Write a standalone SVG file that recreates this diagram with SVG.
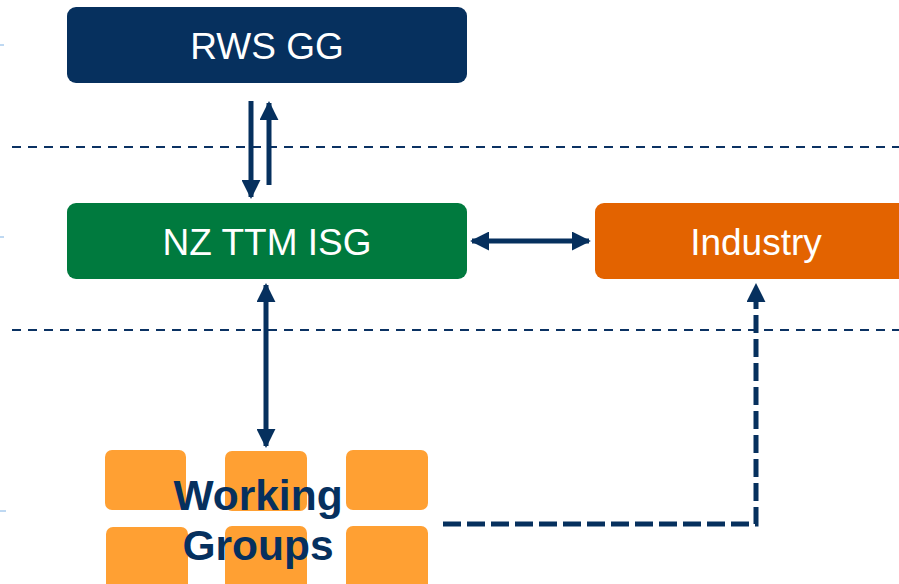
<svg xmlns="http://www.w3.org/2000/svg" width="899" height="584" viewBox="0 0 899 584">
<style>
.box{stroke:none}
.lbl{font-family:"Liberation Sans",Arial,sans-serif;font-size:37px;fill:#fff;text-anchor:middle}
.wg{fill:#FFA033}
.wgt{font-family:"Liberation Sans",Arial,sans-serif;font-weight:bold;font-size:42.5px;fill:#06305E;text-anchor:middle}
.guide{stroke:#0B3263;stroke-width:2;stroke-dasharray:9 7;fill:none}
.conn{stroke:#06305E;stroke-width:5;fill:none}
</style>
<defs>
<marker id="ah" viewBox="0 0 10 10" refX="9" refY="5" markerWidth="3.8" markerHeight="3.8" orient="auto-start-reverse" markerUnits="strokeWidth">
<path d="M0,0 L10,5 L0,10 z" fill="#06305E"/>
</marker>
</defs>
<g id="edge-ticks" stroke="#7FB2E5" stroke-width="1">
<line x1="0" y1="45" x2="4" y2="45"/>
<line x1="0" y1="237" x2="4" y2="237"/>
<line x1="0" y1="511" x2="6" y2="511"/>
</g>
<g id="guides">
<line class="guide" x1="12" y1="147" x2="899" y2="147"/>
<line class="guide" x1="12" y1="330" x2="899" y2="330"/>
</g>
<g id="rws">
<rect class="box" x="67" y="7" width="400" height="76" rx="9" fill="#06305E"/>
<text class="lbl" x="267" y="59">RWS GG</text>
</g>
<g id="isg">
<rect class="box" x="67" y="203" width="400" height="76" rx="9" fill="#007A3E"/>
<text class="lbl" x="267" y="255">NZ TTM ISG</text>
</g>
<g id="industry">
<rect class="box" x="595" y="203" width="320" height="76" rx="9" fill="#E36300"/>
<text class="lbl" x="756" y="255">Industry</text>
</g>
<g id="working-groups">
<rect class="wg" x="105" y="450" width="81" height="60" rx="7"/>
<rect class="wg" x="225" y="451" width="82" height="60" rx="7"/>
<rect class="wg" x="346" y="450" width="82" height="60" rx="7"/>
<rect class="wg" x="106" y="527" width="82" height="66" rx="7"/>
<rect class="wg" x="225" y="526" width="82" height="66" rx="7"/>
<rect class="wg" x="346" y="526" width="82" height="66" rx="7"/>
<text class="wgt" x="258" y="510">Working</text>
<text class="wgt" x="258" y="560">Groups</text>
</g>
<g id="connectors">
<line class="conn" x1="251" y1="101" x2="251" y2="197" marker-end="url(#ah)"/>
<line class="conn" x1="269" y1="185" x2="269" y2="103" marker-end="url(#ah)"/>
<line class="conn" x1="472" y1="241" x2="589" y2="241" marker-start="url(#ah)" marker-end="url(#ah)"/>
<line class="conn" x1="266" y1="285" x2="266" y2="446" marker-start="url(#ah)" marker-end="url(#ah)"/>
<path class="conn" d="M443,524 H756 V285" stroke-dasharray="18 6" marker-end="url(#ah)"/>
</g>
</svg>
